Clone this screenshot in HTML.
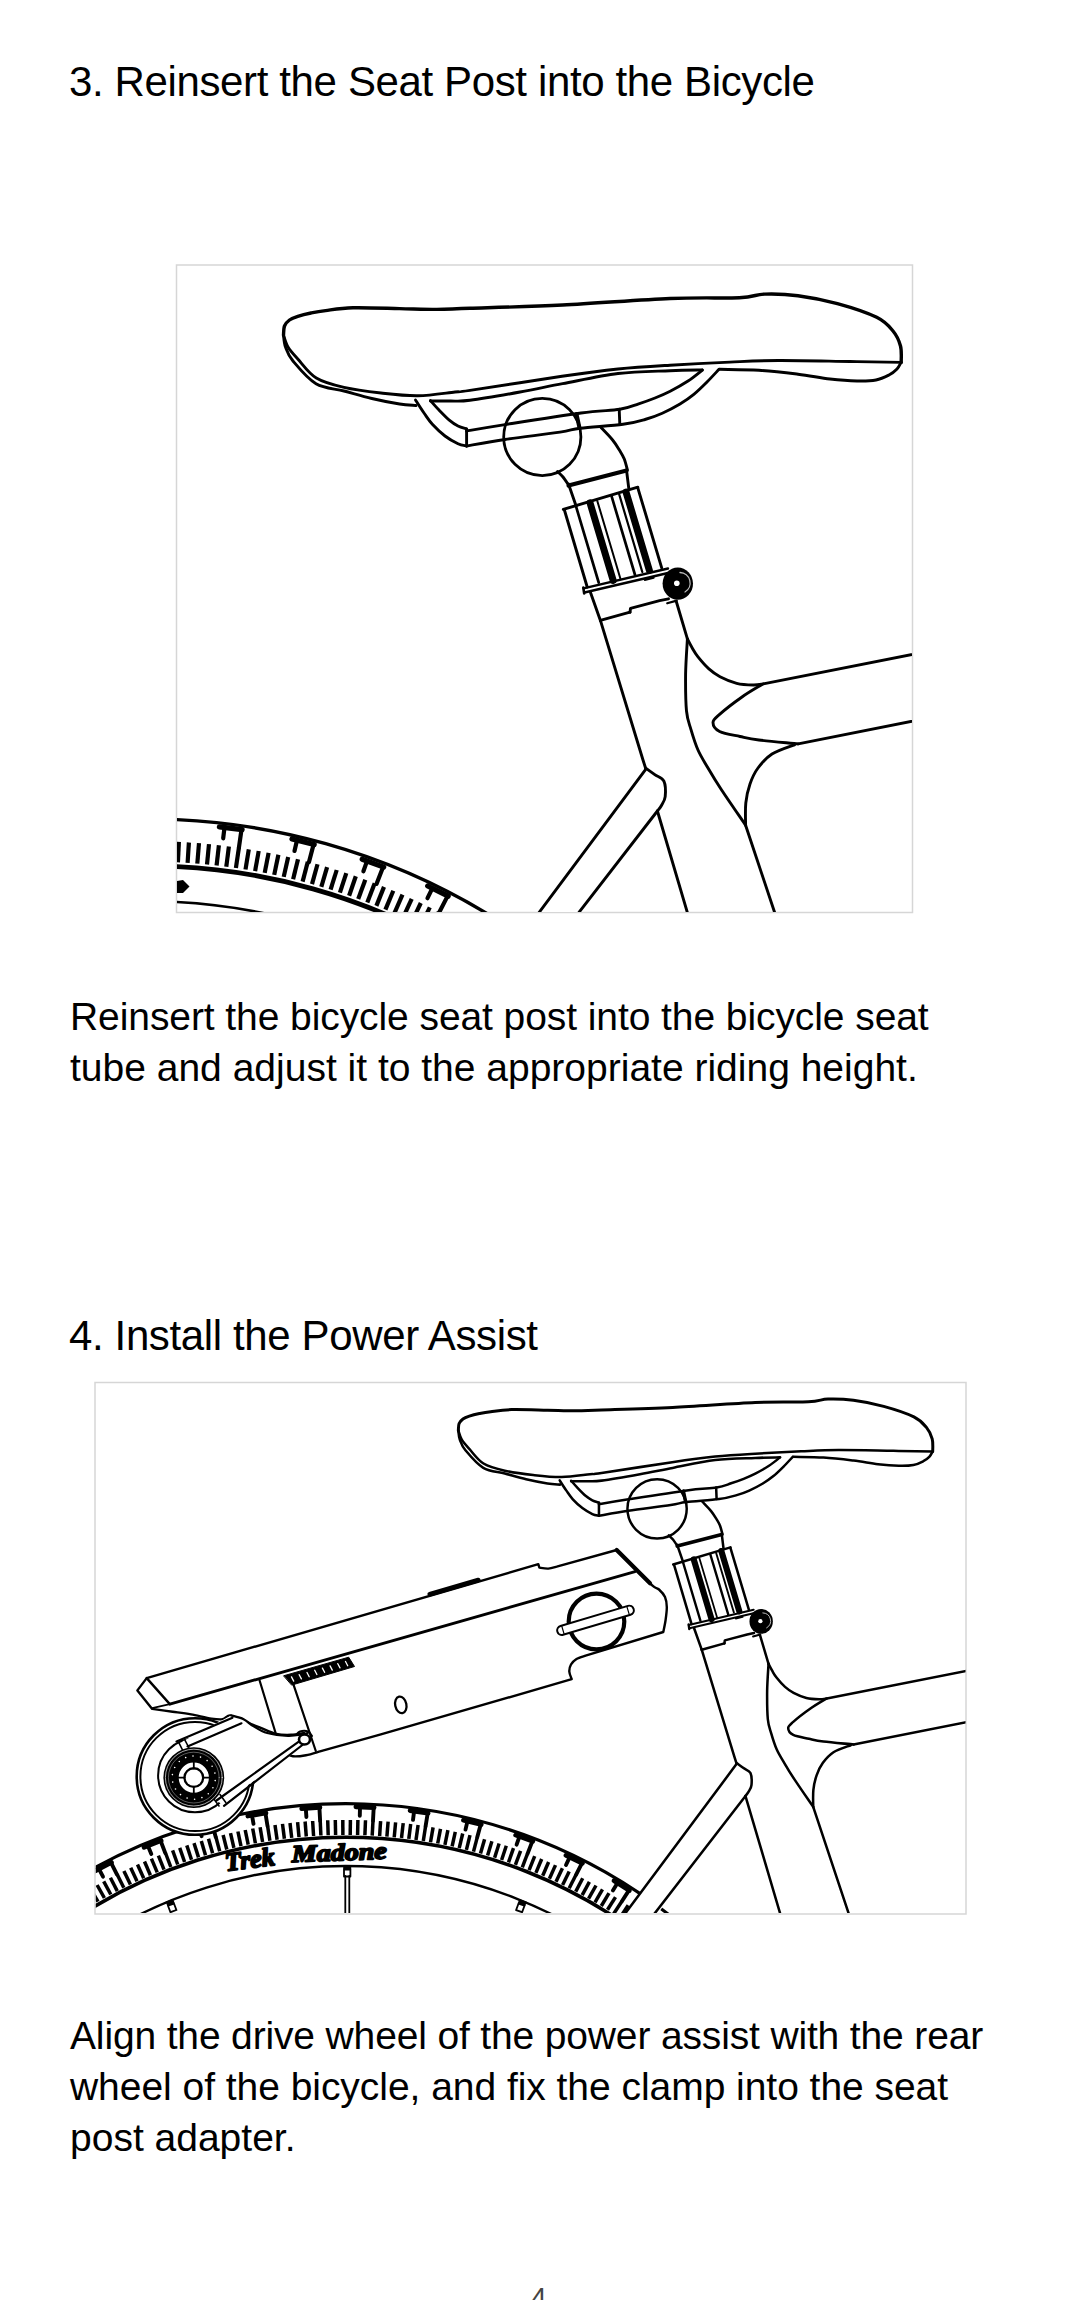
<!DOCTYPE html>
<html><head><meta charset="utf-8">
<style>
html,body{margin:0;padding:0;background:#fff;}
body{width:1080px;height:2300px;position:relative;overflow:hidden;font-family:"Liberation Sans",sans-serif;color:#000;}
.t{position:absolute;white-space:nowrap;margin:0;}
.h{font-size:42px;line-height:50px;letter-spacing:-0.37px;}
.p{font-size:39px;line-height:51px;}
svg{position:absolute;left:0;top:0;}
</style></head><body>
<div class="t h" style="left:69px;top:56.5px">3. Reinsert the Seat Post into the Bicycle</div>
<div class="t p" style="left:70px;top:990.8px;letter-spacing:-0.08px">Reinsert the bicycle seat post into the bicycle seat</div>
<div class="t p" style="left:70px;top:1041.7px">tube and adjust it to the appropriate riding height.</div>
<div class="t h" style="left:69px;top:1311.4px">4. Install the Power Assist</div>
<div class="t p" style="left:70px;top:2009.9px;letter-spacing:-0.15px">Align the drive wheel of the power assist with the rear</div>
<div class="t p" style="left:70px;top:2061px;letter-spacing:-0.04px">wheel of the bicycle, and fix the clamp into the seat</div>
<div class="t p" style="left:70px;top:2112px">post adapter.</div>
<div class="t" style="left:531px;top:2281px;font-size:28px;line-height:34px;color:#444">4</div>
<svg width="1080" height="2300" viewBox="0 0 1080 2300">
<rect x="176.5" y="265" width="736" height="647.5" fill="none" stroke="#d6d6d6" stroke-width="1.5"/>
<rect x="95" y="1382.5" width="871" height="531.5" fill="none" stroke="#d6d6d6" stroke-width="1.5"/>
<g fill="none" stroke="#000" stroke-linecap="round" stroke-linejoin="round">
<clipPath id="c1"><rect x="177" y="265.5" width="735" height="646.5"/></clipPath>
<g clip-path="url(#c1)">
<path d="M124.1,819.4 A658.1,658.1 0 0 1 510.3,928.3" stroke-width="3.40"/>
<path d="M125.7,866.3 A611.2,611.2 0 0 1 484.4,967.4" stroke-width="4.80"/>
<path d="M127.0,901.6 A575.8,575.8 0 0 1 286.4,918.4" stroke-width="2.60"/>
<path d="M177.9,862.4 L178.9,841.9" stroke-width="4.20" stroke-linecap="butt"/>
<path d="M187.6,862.9 L188.9,842.5" stroke-width="4.20" stroke-linecap="butt"/>
<path d="M197.3,863.6 L199.0,843.2" stroke-width="4.20" stroke-linecap="butt"/>
<path d="M207.0,864.5 L209.0,844.1" stroke-width="4.20" stroke-linecap="butt"/>
<path d="M216.6,865.5 L218.9,845.2" stroke-width="4.20" stroke-linecap="butt"/>
<path d="M226.3,866.7 L228.9,846.4" stroke-width="4.20" stroke-linecap="butt"/>
<path d="M235.9,868.0 L238.9,847.8" stroke-width="4.20" stroke-linecap="butt"/>
<path d="M245.5,869.5 L248.8,849.3" stroke-width="4.20" stroke-linecap="butt"/>
<path d="M255.1,871.1 L258.7,851.0" stroke-width="4.20" stroke-linecap="butt"/>
<path d="M264.7,872.9 L268.6,852.8" stroke-width="4.20" stroke-linecap="butt"/>
<path d="M274.2,874.9 L278.4,854.8" stroke-width="4.20" stroke-linecap="butt"/>
<path d="M283.7,876.9 L288.2,857.0" stroke-width="4.20" stroke-linecap="butt"/>
<path d="M293.1,879.2 L298.0,859.3" stroke-width="4.20" stroke-linecap="butt"/>
<path d="M302.6,881.6 L307.8,861.7" stroke-width="4.20" stroke-linecap="butt"/>
<path d="M312.0,884.1 L317.5,864.3" stroke-width="4.20" stroke-linecap="butt"/>
<path d="M321.3,886.8 L327.1,867.1" stroke-width="4.20" stroke-linecap="butt"/>
<path d="M330.6,889.6 L336.7,870.0" stroke-width="4.20" stroke-linecap="butt"/>
<path d="M339.9,892.6 L346.3,873.1" stroke-width="4.20" stroke-linecap="butt"/>
<path d="M349.1,895.7 L355.8,876.3" stroke-width="4.20" stroke-linecap="butt"/>
<path d="M358.2,898.9 L365.3,879.7" stroke-width="4.20" stroke-linecap="butt"/>
<path d="M367.3,902.4 L374.7,883.2" stroke-width="4.20" stroke-linecap="butt"/>
<path d="M376.4,905.9 L384.0,886.9" stroke-width="4.20" stroke-linecap="butt"/>
<path d="M385.4,909.6 L393.3,890.7" stroke-width="4.20" stroke-linecap="butt"/>
<path d="M394.3,913.4 L402.5,894.7" stroke-width="4.20" stroke-linecap="butt"/>
<path d="M403.2,917.4 L411.7,898.8" stroke-width="4.20" stroke-linecap="butt"/>
<path d="M412.0,921.5 L420.8,903.0" stroke-width="4.20" stroke-linecap="butt"/>
<path d="M420.7,925.8 L429.8,907.4" stroke-width="4.20" stroke-linecap="butt"/>
<path d="M429.4,930.2 L438.8,912.0" stroke-width="4.20" stroke-linecap="butt"/>
<path d="M438.0,934.7 L447.7,916.6" stroke-width="4.20" stroke-linecap="butt"/>
<path d="M446.5,939.4 L456.5,921.5" stroke-width="4.20" stroke-linecap="butt"/>
<path d="M455.0,944.2 L465.3,926.4" stroke-width="4.20" stroke-linecap="butt"/>
<path d="M463.4,949.1 L473.9,931.5" stroke-width="4.20" stroke-linecap="butt"/>
<path d="M471.7,954.2 L482.5,936.7" stroke-width="4.20" stroke-linecap="butt"/>
<path d="M479.9,959.3 L491.0,942.1" stroke-width="4.20" stroke-linecap="butt"/>
<path d="M219.4,826.8 L242.1,829.7" stroke-width="5.2" fill="none"/>
<path d="M224.5,827.4 L223.2,838.3" stroke-width="4.2" fill="none"/>
<path d="M241.5,829.6 L238.9,847.8" stroke-width="4.2" fill="none"/>
<path d="M292.0,839.0 L314.2,844.5" stroke-width="5.2" fill="none"/>
<path d="M297.0,840.2 L294.5,850.9" stroke-width="4.2" fill="none"/>
<path d="M313.6,844.4 L309.0,862.0" stroke-width="4.2" fill="none"/>
<path d="M362.2,859.2 L383.7,867.1" stroke-width="5.2" fill="none"/>
<path d="M367.1,860.9 L363.4,871.3" stroke-width="4.2" fill="none"/>
<path d="M383.1,866.9 L376.5,883.9" stroke-width="4.2" fill="none"/>
<path d="M427.7,886.0 L448.2,896.2" stroke-width="5.2" fill="none"/>
<path d="M432.3,888.3 L427.5,898.2" stroke-width="4.2" fill="none"/>
<path d="M447.7,895.9 L439.3,912.2" stroke-width="4.2" fill="none"/>
<path d="M177,881 L183,880 L189.5,886.5 L183,893 L177,893 Z" fill="#000" stroke="none"/>
<path d="M283.5,335.0 C283.7,333.5 283.5,328.5 284.5,326.0 C285.5,323.5 287.3,321.6 289.5,320.0 C291.7,318.4 294.2,317.5 297.8,316.3 C301.4,315.1 306.4,313.9 311.0,313.0 C315.6,312.1 318.6,311.5 325.6,310.6 C332.6,309.7 340.7,308.1 353.0,307.8 C365.3,307.5 385.7,308.3 399.6,308.6 C413.6,308.9 425.0,309.4 436.7,309.4 C448.4,309.3 449.0,309.0 470.0,308.3 C491.0,307.6 529.3,306.6 562.6,305.0 C595.9,303.4 640.5,299.7 670.0,298.5 C699.5,297.3 723.5,298.4 739.3,297.7 C755.1,297.0 755.0,294.4 764.8,294.1 C774.6,293.8 785.9,294.1 798.0,295.7 C810.1,297.3 824.3,300.0 837.4,303.6 C850.5,307.2 867.4,312.7 876.7,317.3 C886.0,321.9 889.0,326.2 893.0,331.0 C897.0,335.8 899.1,340.8 900.5,346.0 C901.9,351.2 901.1,359.7 901.2,362.4" stroke-width="3.4" fill="none"/>
<path d="M283.5,335.0 C284.2,337.0 285.6,343.0 288.0,347.0 C290.4,351.0 293.1,353.8 297.8,359.0 C302.5,364.2 308.6,373.3 316.3,378.0 C324.0,382.7 333.2,384.9 344.0,387.4 C354.8,389.9 368.7,391.6 381.0,393.0 C393.3,394.4 405.7,395.9 418.0,395.7 C430.3,395.5 446.3,392.9 455.0,392.0 C463.7,391.1 452.2,393.0 470.0,390.4 C487.8,387.8 537.3,379.9 562.0,376.3 C586.7,372.7 600.0,370.9 618.0,369.0 C636.0,367.1 651.3,366.3 670.0,365.2 C688.7,364.1 711.9,362.9 730.0,362.1 C748.1,361.3 758.5,360.6 778.5,360.5 C798.5,360.4 829.5,361.2 850.0,361.5 C870.5,361.8 892.7,362.2 901.2,362.4" stroke-width="2.9" fill="none"/>
<path d="M283.5,335.0 C283.8,337.0 283.9,342.7 285.5,347.0 C287.1,351.3 287.9,354.9 293.0,361.0 C298.1,367.1 307.5,378.7 316.0,383.7 C324.5,388.7 334.7,388.5 344.0,391.0 C353.3,393.5 362.5,396.3 371.8,398.5 C381.1,400.7 392.2,402.8 399.6,404.0 C407.0,405.2 413.3,405.2 416.0,405.5" stroke-width="2.9" fill="none"/>
<path d="M415.5,400.0 C416.9,402.2 421.1,408.9 424.0,413.0 C426.9,417.1 429.1,420.8 432.6,424.6 C436.1,428.4 440.8,432.8 445.0,436.0 C449.2,439.2 454.4,442.1 458.0,443.8 C461.6,445.5 465.2,445.6 466.6,446.0" stroke-width="2.9" fill="none"/>
<path d="M430.4,400.5 C431.8,402.1 435.8,406.7 439.0,410.0 C442.2,413.3 446.4,417.7 449.6,420.4 C452.8,423.1 455.2,424.6 458.0,426.0 C460.8,427.4 465.2,428.5 466.6,429.0" stroke-width="2.9" fill="none"/>
<path d="M466.6,429.0 L466.6,446.0" stroke-width="2.9" fill="none"/>
<path d="M430.4,401.0 C433.7,401.0 443.4,401.1 450.0,401.0 C456.6,400.9 458.3,401.8 470.0,400.3 C481.7,398.8 504.6,394.8 520.0,392.0 C535.4,389.2 546.3,386.8 562.6,383.7 C578.9,380.6 600.1,375.7 618.0,373.5 C635.9,371.3 656.0,371.3 670.0,370.7 C684.0,370.1 696.7,370.1 702.0,370.0" stroke-width="2.9" fill="none"/>
<path d="M719.6,369.3 C726.2,369.5 745.9,369.5 759.0,370.3 C772.1,371.1 786.2,372.8 798.0,374.2 C809.8,375.6 820.2,377.9 830.0,379.0 C839.8,380.1 849.3,380.8 857.0,381.0 C864.7,381.2 870.7,381.0 876.0,380.0 C881.3,379.0 885.5,376.8 889.0,375.0 C892.5,373.2 895.0,371.1 897.0,369.0 C899.0,366.9 900.3,363.5 901.0,362.4" stroke-width="2.9" fill="none"/>
<path d="M466.6,431.0 C473.0,429.9 485.9,427.6 505.0,424.6 C524.1,421.6 561.9,415.6 581.0,413.0 C600.1,410.4 610.2,410.8 619.8,409.3 C629.4,407.8 632.8,405.7 638.7,403.8 C644.6,401.9 649.8,400.1 655.0,398.0 C660.2,395.9 664.7,394.0 670.2,391.2 C675.7,388.4 682.6,384.5 688.0,381.0 C693.4,377.5 700.1,371.8 702.5,370.0" stroke-width="2.9" fill="none"/>
<path d="M466.6,446.0 C473.0,444.9 489.4,441.8 505.0,439.5 C520.6,437.2 547.4,434.0 560.0,432.1 C572.6,430.2 570.0,429.5 580.5,428.2 C591.0,426.9 612.2,425.8 623.0,424.3 C633.8,422.9 638.5,421.4 645.0,419.5 C651.5,417.6 656.5,415.8 662.3,413.2 C668.1,410.6 674.8,407.1 680.0,404.0 C685.2,400.9 689.3,398.1 693.8,394.4 C698.3,390.7 702.8,386.2 707.0,382.0 C711.2,377.8 717.0,371.4 719.0,369.3" stroke-width="2.9" fill="none"/>
<path d="M619.2,409.3 L619.8,424.3" stroke-width="2.9" fill="none"/>
<circle cx="542.3" cy="437" r="38.6" stroke-width="2.80"/>
<path d="M576.5,414.0 L579.5,428.0" stroke-width="4.0" fill="none"/>
<path d="M601.0,427.5 C602.9,429.6 609.4,436.1 612.6,440.0 C615.8,443.9 618.0,447.8 620.0,451.0 C622.0,454.2 623.2,456.1 624.4,459.3 C625.6,462.5 626.9,468.2 627.4,470.0" stroke-width="2.9" fill="none"/>
<path d="M557.5,471.5 C558.4,472.4 561.2,474.8 563.0,477.0 C564.8,479.2 567.6,483.7 568.5,485.0" stroke-width="2.9" fill="none"/>
<path d="M568.5,485.5 L626.5,470.5" stroke-width="4.2" fill="none"/>
<path d="M568.5,484.0 L576.1,506.0" stroke-width="2.9" fill="none"/>
<path d="M626.5,470.0 L628.9,489.4" stroke-width="2.9" fill="none"/>
<path d="M563.3,509.4 L637.8,487.2" stroke-width="2.9" fill="none"/>
<path d="M564.4,510.0 L587.2,587.0" stroke-width="2.9" fill="none"/>
<path d="M637.8,487.8 L661.7,567.8" stroke-width="2.9" fill="none"/>
<path d="M576.1,506.7 L598.7,582.5" stroke-width="2.7" fill="none"/>
<path d="M590.0,502.8 L613.2,580.5" stroke-width="7.0" fill="none"/>
<path d="M597.3,501.0 L620.5,579.0" stroke-width="2.0" fill="none"/>
<path d="M611.7,496.7 L634.9,574.5" stroke-width="2.7" fill="none"/>
<path d="M619.2,494.4 L642.3,572.0" stroke-width="2.2" fill="none"/>
<path d="M626.0,492.0 L649.4,570.5" stroke-width="7.0" fill="none"/>
<path d="M583.6,588.3 L668.0,568.5" stroke-width="2.4" fill="none"/>
<path d="M584.5,592.5 L668.0,573.0" stroke-width="2.4" fill="none"/>
<path d="M583.3,587.5 L584.2,593.5" stroke-width="2.6" fill="none"/>
<path d="M644.8,580.0 L653.7,577.8" stroke-width="2.0" fill="none"/>
<path d="M590.5,592.5 L600.4,620.4" stroke-width="2.9" fill="none"/>
<path d="M600.4,620.4 L630.0,612.2" stroke-width="2.9" fill="none"/>
<path d="M630.0,612.2 L630.5,608.3 L659.6,600.7 L668.5,598.8" stroke-width="2.9" fill="none"/>
<path d="M667.2,603.3 L676.7,600.6" stroke-width="2.2" fill="none"/>
<ellipse cx="677.8" cy="583.6" rx="15.2" ry="16.2" fill="#000" stroke="none"/>
<path d="M680,572.5 A10.5,10.5 0 0 1 685,592" stroke="#bbb" stroke-width="1.3"/>
<circle cx="676.8" cy="583.3" r="2.8" fill="#fff" stroke="none"/>
<path d="M600.4,620.4 L643.0,760.0 L645.7,768.5" stroke-width="2.9" fill="none"/>
<path d="M676.3,601.5 L687.4,638.9" stroke-width="2.9" fill="none"/>
<path d="M687.4,638.9 C687.1,644.8 685.8,662.0 685.6,674.0 C685.5,686.0 685.6,701.7 686.5,711.0 C687.4,720.3 689.1,723.1 691.0,729.6 C692.9,736.1 695.2,743.6 698.0,750.0 C700.8,756.4 704.1,761.3 708.0,768.0 C711.9,774.7 715.3,780.5 721.6,790.0 C727.9,799.5 741.6,819.3 745.6,825.2" stroke-width="2.9" fill="none"/>
<path d="M745.6,825.2 L793.8,970.0" stroke-width="2.9" fill="none"/>
<path d="M687.4,638.9 C688.2,640.5 690.8,645.5 692.5,648.5 C694.2,651.5 695.1,653.3 697.8,656.7 C700.5,660.1 705.2,665.6 708.9,668.9 C712.6,672.2 715.4,674.3 720.0,676.7 C724.6,679.1 731.2,681.9 736.7,683.3 C742.2,684.7 748.9,684.9 753.3,685.0 C757.7,685.1 761.6,684.1 763.3,683.9" stroke-width="2.9" fill="none"/>
<path d="M763.3,683.9 L950.0,647.1" stroke-width="2.9" fill="none"/>
<path d="M762.0,684.5 C758.7,686.6 749.1,692.0 742.0,697.0 C734.9,702.0 724.4,710.1 719.6,714.4 C714.8,718.6 713.0,719.6 713.0,722.5 C713.0,725.4 715.1,729.2 719.6,731.5 C724.1,733.8 733.5,735.1 740.0,736.5 C746.5,737.9 749.2,738.8 758.9,740.0 C768.6,741.2 791.7,743.2 798.2,743.9" stroke-width="2.9" fill="none"/>
<path d="M798.2,743.9 L950.0,713.8" stroke-width="2.9" fill="none"/>
<path d="M794.5,744.8 C790.8,746.3 778.1,750.1 772.0,754.0 C765.9,757.9 761.7,763.0 758.0,768.0 C754.3,773.0 752.0,778.2 750.0,784.0 C748.0,789.8 746.5,796.1 745.8,803.0 C745.1,809.9 745.6,821.5 745.6,825.2" stroke-width="2.9" fill="none"/>
<path d="M645.7,768.1 C647.2,769.2 651.8,772.4 654.8,774.6 C657.8,776.8 662.2,777.4 663.9,781.1 C665.6,784.8 665.6,792.6 665.2,796.7 C664.8,800.8 662.6,803.3 661.3,805.7 C660.0,808.1 658.0,810.1 657.4,811.0 L535,975 L492.5,975 Z" fill="#fff" stroke="none"/>
<path d="M645.7,768.1 C647.2,769.2 651.8,772.4 654.8,774.6 C657.8,776.8 662.2,777.4 663.9,781.1 C665.6,784.8 665.6,792.6 665.2,796.7 C664.8,800.8 662.6,803.3 661.3,805.7 C660.0,808.1 658.0,810.1 657.4,811.0" stroke-width="2.9" fill="none"/>
<path d="M645.7,769.4 L492.5,975.0" stroke-width="2.9" fill="none"/>
<path d="M657.4,811.0 L530.5,975.0" stroke-width="2.9" fill="none"/>
<path d="M657.4,811.0 L705.8,975.0" stroke-width="2.9" fill="none"/>
</g>
<clipPath id="c2"><rect x="95.8" y="1383" width="869.7" height="530"/></clipPath>
<g clip-path="url(#c2)">
<path d="M37.4,1904.0 A525.0,525.0 0 0 1 683.5,1926.5" stroke-width="3.13"/>
<path d="M57.1,1931.1 A491.5,491.5 0 0 1 661.9,1952.2" stroke-width="3.59"/>
<path d="M74.0,1954.4 A462.7,462.7 0 0 1 643.4,1974.3" stroke-width="2.39"/>
<path d="M55.1,1929.7 L46.2,1917.6" stroke-width="3.50" stroke-linecap="butt"/>
<path d="M61.0,1925.4 L52.4,1913.2" stroke-width="3.50" stroke-linecap="butt"/>
<path d="M67.0,1921.2 L58.6,1908.9" stroke-width="3.50" stroke-linecap="butt"/>
<path d="M73.1,1917.2 L64.8,1904.6" stroke-width="3.50" stroke-linecap="butt"/>
<path d="M79.3,1913.1 L71.2,1900.5" stroke-width="3.50" stroke-linecap="butt"/>
<path d="M85.5,1909.2 L77.5,1896.5" stroke-width="3.50" stroke-linecap="butt"/>
<path d="M91.7,1905.4 L84.0,1892.5" stroke-width="3.50" stroke-linecap="butt"/>
<path d="M98.0,1901.7 L90.5,1888.7" stroke-width="3.50" stroke-linecap="butt"/>
<path d="M104.4,1898.0 L97.1,1885.0" stroke-width="3.50" stroke-linecap="butt"/>
<path d="M110.8,1894.5 L103.7,1881.3" stroke-width="3.50" stroke-linecap="butt"/>
<path d="M117.3,1891.1 L110.4,1877.8" stroke-width="3.50" stroke-linecap="butt"/>
<path d="M123.8,1887.7 L117.1,1874.3" stroke-width="3.50" stroke-linecap="butt"/>
<path d="M130.4,1884.5 L123.9,1871.0" stroke-width="3.50" stroke-linecap="butt"/>
<path d="M137.0,1881.3 L130.7,1867.7" stroke-width="3.50" stroke-linecap="butt"/>
<path d="M143.7,1878.2 L137.5,1864.6" stroke-width="3.50" stroke-linecap="butt"/>
<path d="M150.4,1875.3 L144.5,1861.5" stroke-width="3.50" stroke-linecap="butt"/>
<path d="M157.2,1872.4 L151.4,1858.6" stroke-width="3.50" stroke-linecap="butt"/>
<path d="M164.0,1869.7 L158.4,1855.7" stroke-width="3.50" stroke-linecap="butt"/>
<path d="M170.8,1867.0 L165.5,1853.0" stroke-width="3.50" stroke-linecap="butt"/>
<path d="M177.7,1864.5 L172.6,1850.4" stroke-width="3.50" stroke-linecap="butt"/>
<path d="M184.6,1862.0 L179.7,1847.9" stroke-width="3.50" stroke-linecap="butt"/>
<path d="M191.5,1859.7 L186.8,1845.4" stroke-width="3.50" stroke-linecap="butt"/>
<path d="M198.5,1857.4 L194.0,1843.1" stroke-width="3.50" stroke-linecap="butt"/>
<path d="M205.5,1855.3 L201.3,1840.9" stroke-width="3.50" stroke-linecap="butt"/>
<path d="M212.6,1853.3 L208.5,1838.8" stroke-width="3.50" stroke-linecap="butt"/>
<path d="M219.7,1851.3 L215.8,1836.8" stroke-width="3.50" stroke-linecap="butt"/>
<path d="M226.8,1849.5 L223.1,1835.0" stroke-width="3.50" stroke-linecap="butt"/>
<path d="M233.9,1847.8 L230.5,1833.2" stroke-width="3.50" stroke-linecap="butt"/>
<path d="M241.0,1846.2 L237.9,1831.5" stroke-width="3.50" stroke-linecap="butt"/>
<path d="M248.2,1844.7 L245.2,1830.0" stroke-width="3.50" stroke-linecap="butt"/>
<path d="M255.4,1843.3 L252.7,1828.5" stroke-width="3.50" stroke-linecap="butt"/>
<path d="M262.6,1842.0 L260.1,1827.2" stroke-width="3.50" stroke-linecap="butt"/>
<path d="M269.9,1840.8 L267.6,1826.0" stroke-width="3.50" stroke-linecap="butt"/>
<path d="M277.1,1839.7 L275.0,1824.9" stroke-width="3.50" stroke-linecap="butt"/>
<path d="M284.4,1838.8 L282.5,1823.9" stroke-width="3.50" stroke-linecap="butt"/>
<path d="M291.7,1837.9 L290.0,1823.0" stroke-width="3.50" stroke-linecap="butt"/>
<path d="M299.0,1837.1 L297.6,1822.2" stroke-width="3.50" stroke-linecap="butt"/>
<path d="M306.3,1836.5 L305.1,1821.5" stroke-width="3.50" stroke-linecap="butt"/>
<path d="M313.6,1836.0 L312.6,1821.0" stroke-width="3.50" stroke-linecap="butt"/>
<path d="M320.9,1835.5 L320.2,1820.6" stroke-width="3.50" stroke-linecap="butt"/>
<path d="M328.2,1835.2 L327.7,1820.2" stroke-width="3.50" stroke-linecap="butt"/>
<path d="M335.6,1835.0 L335.3,1820.0" stroke-width="3.50" stroke-linecap="butt"/>
<path d="M342.9,1834.9 L342.8,1819.9" stroke-width="3.50" stroke-linecap="butt"/>
<path d="M350.2,1834.9 L350.4,1819.9" stroke-width="3.50" stroke-linecap="butt"/>
<path d="M357.6,1835.0 L357.9,1820.0" stroke-width="3.50" stroke-linecap="butt"/>
<path d="M364.9,1835.3 L365.5,1820.3" stroke-width="3.50" stroke-linecap="butt"/>
<path d="M372.2,1835.6 L373.0,1820.6" stroke-width="3.50" stroke-linecap="butt"/>
<path d="M379.6,1836.0 L380.6,1821.1" stroke-width="3.50" stroke-linecap="butt"/>
<path d="M386.9,1836.6 L388.1,1821.6" stroke-width="3.50" stroke-linecap="butt"/>
<path d="M394.2,1837.3 L395.6,1822.3" stroke-width="3.50" stroke-linecap="butt"/>
<path d="M401.5,1838.0 L403.2,1823.1" stroke-width="3.50" stroke-linecap="butt"/>
<path d="M408.8,1838.9 L410.7,1824.0" stroke-width="3.50" stroke-linecap="butt"/>
<path d="M416.0,1839.9 L418.1,1825.0" stroke-width="3.50" stroke-linecap="butt"/>
<path d="M423.3,1841.0 L425.6,1826.2" stroke-width="3.50" stroke-linecap="butt"/>
<path d="M430.5,1842.2 L433.1,1827.4" stroke-width="3.50" stroke-linecap="butt"/>
<path d="M437.7,1843.5 L440.5,1828.8" stroke-width="3.50" stroke-linecap="butt"/>
<path d="M444.9,1844.9 L447.9,1830.2" stroke-width="3.50" stroke-linecap="butt"/>
<path d="M452.1,1846.4 L455.3,1831.8" stroke-width="3.50" stroke-linecap="butt"/>
<path d="M459.2,1848.1 L462.7,1833.5" stroke-width="3.50" stroke-linecap="butt"/>
<path d="M466.4,1849.8 L470.0,1835.2" stroke-width="3.50" stroke-linecap="butt"/>
<path d="M473.5,1851.6 L477.3,1837.1" stroke-width="3.50" stroke-linecap="butt"/>
<path d="M480.5,1853.6 L484.6,1839.2" stroke-width="3.50" stroke-linecap="butt"/>
<path d="M487.6,1855.6 L491.9,1841.3" stroke-width="3.50" stroke-linecap="butt"/>
<path d="M494.6,1857.8 L499.1,1843.5" stroke-width="3.50" stroke-linecap="butt"/>
<path d="M501.6,1860.0 L506.3,1845.8" stroke-width="3.50" stroke-linecap="butt"/>
<path d="M508.5,1862.4 L513.5,1848.2" stroke-width="3.50" stroke-linecap="butt"/>
<path d="M515.4,1864.9 L520.6,1850.8" stroke-width="3.50" stroke-linecap="butt"/>
<path d="M522.3,1867.4 L527.6,1853.4" stroke-width="3.50" stroke-linecap="butt"/>
<path d="M529.1,1870.1 L534.7,1856.2" stroke-width="3.50" stroke-linecap="butt"/>
<path d="M535.9,1872.9 L541.7,1859.0" stroke-width="3.50" stroke-linecap="butt"/>
<path d="M542.7,1875.8 L548.6,1862.0" stroke-width="3.50" stroke-linecap="butt"/>
<path d="M549.4,1878.7 L555.5,1865.1" stroke-width="3.50" stroke-linecap="butt"/>
<path d="M556.0,1881.8 L562.4,1868.2" stroke-width="3.50" stroke-linecap="butt"/>
<path d="M562.6,1885.0 L569.2,1871.5" stroke-width="3.50" stroke-linecap="butt"/>
<path d="M569.2,1888.2 L576.0,1874.8" stroke-width="3.50" stroke-linecap="butt"/>
<path d="M575.7,1891.6 L582.7,1878.3" stroke-width="3.50" stroke-linecap="butt"/>
<path d="M582.2,1895.1 L589.4,1881.9" stroke-width="3.50" stroke-linecap="butt"/>
<path d="M588.6,1898.6 L596.0,1885.5" stroke-width="3.50" stroke-linecap="butt"/>
<path d="M595.0,1902.3 L602.5,1889.3" stroke-width="3.50" stroke-linecap="butt"/>
<path d="M601.3,1906.0 L609.0,1893.2" stroke-width="3.50" stroke-linecap="butt"/>
<path d="M607.5,1909.8 L615.5,1897.1" stroke-width="3.50" stroke-linecap="butt"/>
<path d="M613.7,1913.8 L621.9,1901.2" stroke-width="3.50" stroke-linecap="butt"/>
<path d="M619.9,1917.8 L628.2,1905.3" stroke-width="3.50" stroke-linecap="butt"/>
<path d="M625.9,1921.9 L634.4,1909.6" stroke-width="3.50" stroke-linecap="butt"/>
<path d="M631.9,1926.1 L640.6,1913.9" stroke-width="3.50" stroke-linecap="butt"/>
<path d="M637.9,1930.4 L646.8,1918.3" stroke-width="3.50" stroke-linecap="butt"/>
<path d="M643.8,1934.8 L652.8,1922.8" stroke-width="3.50" stroke-linecap="butt"/>
<path d="M649.6,1939.2 L658.8,1927.4" stroke-width="3.50" stroke-linecap="butt"/>
<path d="M655.3,1943.8 L664.7,1932.1" stroke-width="3.50" stroke-linecap="butt"/>
<path d="M661.0,1948.4 L670.6,1936.9" stroke-width="3.50" stroke-linecap="butt"/>
<path d="M95.3,1870.9 L111.4,1862.4" stroke-width="4.8" fill="none"/>
<path d="M98.9,1868.9 L103.0,1876.7" stroke-width="3.9" fill="none"/>
<path d="M111.0,1862.6 L116.9,1874.4" stroke-width="3.9" fill="none"/>
<path d="M144.1,1847.3 L161.1,1840.6" stroke-width="4.8" fill="none"/>
<path d="M147.9,1845.8 L151.3,1853.9" stroke-width="3.9" fill="none"/>
<path d="M160.6,1840.8 L165.3,1853.1" stroke-width="3.9" fill="none"/>
<path d="M195.2,1829.0 L212.8,1824.0" stroke-width="4.8" fill="none"/>
<path d="M199.2,1827.8 L201.6,1836.2" stroke-width="3.9" fill="none"/>
<path d="M212.3,1824.1 L215.7,1836.9" stroke-width="3.9" fill="none"/>
<path d="M247.9,1816.0 L265.9,1812.9" stroke-width="4.8" fill="none"/>
<path d="M252.0,1815.3 L253.5,1823.9" stroke-width="3.9" fill="none"/>
<path d="M265.4,1813.0 L267.5,1826.0" stroke-width="3.9" fill="none"/>
<path d="M301.7,1808.6 L319.9,1807.4" stroke-width="4.8" fill="none"/>
<path d="M305.8,1808.3 L306.4,1817.0" stroke-width="3.9" fill="none"/>
<path d="M319.4,1807.4 L320.1,1820.6" stroke-width="3.9" fill="none"/>
<path d="M355.9,1806.8 L374.1,1807.5" stroke-width="4.8" fill="none"/>
<path d="M360.0,1806.9 L359.8,1815.7" stroke-width="3.9" fill="none"/>
<path d="M373.7,1807.5 L373.0,1820.6" stroke-width="3.9" fill="none"/>
<path d="M410.1,1810.7 L428.1,1813.2" stroke-width="4.8" fill="none"/>
<path d="M414.1,1811.2 L413.0,1819.9" stroke-width="3.9" fill="none"/>
<path d="M427.7,1813.2 L425.6,1826.2" stroke-width="3.9" fill="none"/>
<path d="M463.5,1820.1 L481.2,1824.5" stroke-width="4.8" fill="none"/>
<path d="M467.5,1821.1 L465.5,1829.6" stroke-width="3.9" fill="none"/>
<path d="M480.7,1824.4 L477.3,1837.1" stroke-width="3.9" fill="none"/>
<path d="M515.7,1835.1 L532.8,1841.3" stroke-width="4.8" fill="none"/>
<path d="M519.5,1836.4 L516.6,1844.7" stroke-width="3.9" fill="none"/>
<path d="M532.4,1841.1 L527.7,1853.4" stroke-width="3.9" fill="none"/>
<path d="M566.0,1855.4 L582.4,1863.3" stroke-width="4.8" fill="none"/>
<path d="M569.7,1857.1 L566.0,1865.0" stroke-width="3.9" fill="none"/>
<path d="M582.0,1863.1 L576.0,1874.9" stroke-width="3.9" fill="none"/>
<path d="M614.0,1880.8 L629.4,1890.4" stroke-width="4.8" fill="none"/>
<path d="M617.5,1882.9 L612.9,1890.4" stroke-width="3.9" fill="none"/>
<path d="M629.1,1890.1 L621.9,1901.2" stroke-width="3.9" fill="none"/>
<text x="0" y="0" transform="translate(226,1871) rotate(-7)" font-family="Liberation Serif" font-style="italic" font-weight="bold" font-size="26" fill="#000" stroke="#000" stroke-width="1.8" textLength="50" lengthAdjust="spacingAndGlyphs">Trek</text>
<text x="0" y="0" transform="translate(292,1862) rotate(-2)" font-family="Liberation Serif" font-style="italic" font-weight="bold" font-size="24" fill="#000" stroke="#000" stroke-width="1.8" textLength="95" lengthAdjust="spacingAndGlyphs">Madone</text>
<g transform="translate(171.5,1906.0) rotate(-20.5)"><rect x="-4" y="-6" width="8" height="4.5" fill="#000" stroke="none"/><rect x="-3.2" y="-1.5" width="6.4" height="7" fill="#fff" stroke-width="1.8"/></g>
<g transform="translate(347.2,1871.0) rotate(0.0)"><rect x="-4" y="-6" width="8" height="4.5" fill="#000" stroke="none"/><rect x="-3.2" y="-1.5" width="6.4" height="7" fill="#fff" stroke-width="1.8"/></g>
<g transform="translate(521.0,1906.0) rotate(20.0)"><rect x="-4" y="-6" width="8" height="4.5" fill="#000" stroke="none"/><rect x="-3.2" y="-1.5" width="6.4" height="7" fill="#fff" stroke-width="1.8"/></g>
<path d="M345.3,1876.0 L345.3,1915.0" stroke-width="1.8" fill="none"/>
<path d="M349.3,1876.0 L349.3,1915.0" stroke-width="1.8" fill="none"/>
<g transform="matrix(0.768,0,0,0.768,240.6,1173.2)">
<path d="M283.5,335.0 C283.7,333.5 283.5,328.5 284.5,326.0 C285.5,323.5 287.3,321.6 289.5,320.0 C291.7,318.4 294.2,317.5 297.8,316.3 C301.4,315.1 306.4,313.9 311.0,313.0 C315.6,312.1 318.6,311.5 325.6,310.6 C332.6,309.7 340.7,308.1 353.0,307.8 C365.3,307.5 385.7,308.3 399.6,308.6 C413.6,308.9 425.0,309.4 436.7,309.4 C448.4,309.3 449.0,309.0 470.0,308.3 C491.0,307.6 529.3,306.6 562.6,305.0 C595.9,303.4 640.5,299.7 670.0,298.5 C699.5,297.3 723.5,298.4 739.3,297.7 C755.1,297.0 755.0,294.4 764.8,294.1 C774.6,293.8 785.9,294.1 798.0,295.7 C810.1,297.3 824.3,300.0 837.4,303.6 C850.5,307.2 867.4,312.7 876.7,317.3 C886.0,321.9 889.0,326.2 893.0,331.0 C897.0,335.8 899.1,340.8 900.5,346.0 C901.9,351.2 901.1,359.7 901.2,362.4" stroke-width="3.9" fill="none"/>
<path d="M283.5,335.0 C284.2,337.0 285.6,343.0 288.0,347.0 C290.4,351.0 293.1,353.8 297.8,359.0 C302.5,364.2 308.6,373.3 316.3,378.0 C324.0,382.7 333.2,384.9 344.0,387.4 C354.8,389.9 368.7,391.6 381.0,393.0 C393.3,394.4 405.7,395.9 418.0,395.7 C430.3,395.5 446.3,392.9 455.0,392.0 C463.7,391.1 452.2,393.0 470.0,390.4 C487.8,387.8 537.3,379.9 562.0,376.3 C586.7,372.7 600.0,370.9 618.0,369.0 C636.0,367.1 651.3,366.3 670.0,365.2 C688.7,364.1 711.9,362.9 730.0,362.1 C748.1,361.3 758.5,360.6 778.5,360.5 C798.5,360.4 829.5,361.2 850.0,361.5 C870.5,361.8 892.7,362.2 901.2,362.4" stroke-width="3.3" fill="none"/>
<path d="M283.5,335.0 C283.8,337.0 283.9,342.7 285.5,347.0 C287.1,351.3 287.9,354.9 293.0,361.0 C298.1,367.1 307.5,378.7 316.0,383.7 C324.5,388.7 334.7,388.5 344.0,391.0 C353.3,393.5 362.5,396.3 371.8,398.5 C381.1,400.7 392.2,402.8 399.6,404.0 C407.0,405.2 413.3,405.2 416.0,405.5" stroke-width="3.3" fill="none"/>
<path d="M415.5,400.0 C416.9,402.2 421.1,408.9 424.0,413.0 C426.9,417.1 429.1,420.8 432.6,424.6 C436.1,428.4 440.8,432.8 445.0,436.0 C449.2,439.2 454.4,442.1 458.0,443.8 C461.6,445.5 465.2,445.6 466.6,446.0" stroke-width="3.3" fill="none"/>
<path d="M430.4,400.5 C431.8,402.1 435.8,406.7 439.0,410.0 C442.2,413.3 446.4,417.7 449.6,420.4 C452.8,423.1 455.2,424.6 458.0,426.0 C460.8,427.4 465.2,428.5 466.6,429.0" stroke-width="3.3" fill="none"/>
<path d="M466.6,429.0 L466.6,446.0" stroke-width="3.3" fill="none"/>
<path d="M430.4,401.0 C433.7,401.0 443.4,401.1 450.0,401.0 C456.6,400.9 458.3,401.8 470.0,400.3 C481.7,398.8 504.6,394.8 520.0,392.0 C535.4,389.2 546.3,386.8 562.6,383.7 C578.9,380.6 600.1,375.7 618.0,373.5 C635.9,371.3 656.0,371.3 670.0,370.7 C684.0,370.1 696.7,370.1 702.0,370.0" stroke-width="3.3" fill="none"/>
<path d="M719.6,369.3 C726.2,369.5 745.9,369.5 759.0,370.3 C772.1,371.1 786.2,372.8 798.0,374.2 C809.8,375.6 820.2,377.9 830.0,379.0 C839.8,380.1 849.3,380.8 857.0,381.0 C864.7,381.2 870.7,381.0 876.0,380.0 C881.3,379.0 885.5,376.8 889.0,375.0 C892.5,373.2 895.0,371.1 897.0,369.0 C899.0,366.9 900.3,363.5 901.0,362.4" stroke-width="3.3" fill="none"/>
<path d="M466.6,431.0 C473.0,429.9 485.9,427.6 505.0,424.6 C524.1,421.6 561.9,415.6 581.0,413.0 C600.1,410.4 610.2,410.8 619.8,409.3 C629.4,407.8 632.8,405.7 638.7,403.8 C644.6,401.9 649.8,400.1 655.0,398.0 C660.2,395.9 664.7,394.0 670.2,391.2 C675.7,388.4 682.6,384.5 688.0,381.0 C693.4,377.5 700.1,371.8 702.5,370.0" stroke-width="3.3" fill="none"/>
<path d="M466.6,446.0 C473.0,444.9 489.4,441.8 505.0,439.5 C520.6,437.2 547.4,434.0 560.0,432.1 C572.6,430.2 570.0,429.5 580.5,428.2 C591.0,426.9 612.2,425.8 623.0,424.3 C633.8,422.9 638.5,421.4 645.0,419.5 C651.5,417.6 656.5,415.8 662.3,413.2 C668.1,410.6 674.8,407.1 680.0,404.0 C685.2,400.9 689.3,398.1 693.8,394.4 C698.3,390.7 702.8,386.2 707.0,382.0 C711.2,377.8 717.0,371.4 719.0,369.3" stroke-width="3.3" fill="none"/>
<path d="M619.2,409.3 L619.8,424.3" stroke-width="3.3" fill="none"/>
<circle cx="542.3" cy="437" r="38.6" stroke-width="3.22"/>
<path d="M576.5,414.0 L579.5,428.0" stroke-width="4.6" fill="none"/>
<path d="M601.0,427.5 C602.9,429.6 609.4,436.1 612.6,440.0 C615.8,443.9 618.0,447.8 620.0,451.0 C622.0,454.2 623.2,456.1 624.4,459.3 C625.6,462.5 626.9,468.2 627.4,470.0" stroke-width="3.3" fill="none"/>
<path d="M557.5,471.5 C558.4,472.4 561.2,474.8 563.0,477.0 C564.8,479.2 567.6,483.7 568.5,485.0" stroke-width="3.3" fill="none"/>
<path d="M568.5,485.5 L626.5,470.5" stroke-width="4.8" fill="none"/>
<path d="M568.5,484.0 L576.1,506.0" stroke-width="3.3" fill="none"/>
<path d="M626.5,470.0 L628.9,489.4" stroke-width="3.3" fill="none"/>
<path d="M563.3,509.4 L637.8,487.2" stroke-width="3.3" fill="none"/>
<path d="M564.4,510.0 L587.2,587.0" stroke-width="3.3" fill="none"/>
<path d="M637.8,487.8 L661.7,567.8" stroke-width="3.3" fill="none"/>
<path d="M576.1,506.7 L598.7,582.5" stroke-width="3.1" fill="none"/>
<path d="M590.0,502.8 L613.2,580.5" stroke-width="8.0" fill="none"/>
<path d="M597.3,501.0 L620.5,579.0" stroke-width="2.3" fill="none"/>
<path d="M611.7,496.7 L634.9,574.5" stroke-width="3.1" fill="none"/>
<path d="M619.2,494.4 L642.3,572.0" stroke-width="2.5" fill="none"/>
<path d="M626.0,492.0 L649.4,570.5" stroke-width="8.0" fill="none"/>
<path d="M583.6,588.3 L668.0,568.5" stroke-width="2.8" fill="none"/>
<path d="M584.5,592.5 L668.0,573.0" stroke-width="2.8" fill="none"/>
<path d="M583.3,587.5 L584.2,593.5" stroke-width="3.0" fill="none"/>
<path d="M644.8,580.0 L653.7,577.8" stroke-width="2.3" fill="none"/>
<path d="M590.5,592.5 L600.4,620.4" stroke-width="3.3" fill="none"/>
<path d="M600.4,620.4 L630.0,612.2" stroke-width="3.3" fill="none"/>
<path d="M630.0,612.2 L630.5,608.3 L659.6,600.7 L668.5,598.8" stroke-width="3.3" fill="none"/>
<path d="M667.2,603.3 L676.7,600.6" stroke-width="2.5" fill="none"/>
<ellipse cx="677.8" cy="583.6" rx="15.2" ry="16.2" fill="#000" stroke="none"/>
<path d="M680,572.5 A10.5,10.5 0 0 1 685,592" stroke="#bbb" stroke-width="1.3"/>
<circle cx="676.8" cy="583.3" r="2.8" fill="#fff" stroke="none"/>
<path d="M600.4,620.4 L643.0,760.0 L645.7,768.5" stroke-width="3.3" fill="none"/>
<path d="M676.3,601.5 L687.4,638.9" stroke-width="3.3" fill="none"/>
<path d="M687.4,638.9 C687.1,644.8 685.8,662.0 685.6,674.0 C685.5,686.0 685.6,701.7 686.5,711.0 C687.4,720.3 689.1,723.1 691.0,729.6 C692.9,736.1 695.2,743.6 698.0,750.0 C700.8,756.4 704.1,761.3 708.0,768.0 C711.9,774.7 715.3,780.5 721.6,790.0 C727.9,799.5 741.6,819.3 745.6,825.2" stroke-width="3.3" fill="none"/>
<path d="M745.6,825.2 L793.8,970.0" stroke-width="3.3" fill="none"/>
<path d="M687.4,638.9 C688.2,640.5 690.8,645.5 692.5,648.5 C694.2,651.5 695.1,653.3 697.8,656.7 C700.5,660.1 705.2,665.6 708.9,668.9 C712.6,672.2 715.4,674.3 720.0,676.7 C724.6,679.1 731.2,681.9 736.7,683.3 C742.2,684.7 748.9,684.9 753.3,685.0 C757.7,685.1 761.6,684.1 763.3,683.9" stroke-width="3.3" fill="none"/>
<path d="M763.3,683.9 L950.0,647.1" stroke-width="3.3" fill="none"/>
<path d="M762.0,684.5 C758.7,686.6 749.1,692.0 742.0,697.0 C734.9,702.0 724.4,710.1 719.6,714.4 C714.8,718.6 713.0,719.6 713.0,722.5 C713.0,725.4 715.1,729.2 719.6,731.5 C724.1,733.8 733.5,735.1 740.0,736.5 C746.5,737.9 749.2,738.8 758.9,740.0 C768.6,741.2 791.7,743.2 798.2,743.9" stroke-width="3.3" fill="none"/>
<path d="M798.2,743.9 L950.0,713.8" stroke-width="3.3" fill="none"/>
<path d="M794.5,744.8 C790.8,746.3 778.1,750.1 772.0,754.0 C765.9,757.9 761.7,763.0 758.0,768.0 C754.3,773.0 752.0,778.2 750.0,784.0 C748.0,789.8 746.5,796.1 745.8,803.0 C745.1,809.9 745.6,821.5 745.6,825.2" stroke-width="3.3" fill="none"/>
<path d="M645.7,768.1 C647.2,769.2 651.8,772.4 654.8,774.6 C657.8,776.8 662.2,777.4 663.9,781.1 C665.6,784.8 665.6,792.6 665.2,796.7 C664.8,800.8 662.6,803.3 661.3,805.7 C660.0,808.1 658.0,810.1 657.4,811.0 L535,975 L492.5,975 Z" fill="#fff" stroke="none"/>
<path d="M645.7,768.1 C647.2,769.2 651.8,772.4 654.8,774.6 C657.8,776.8 662.2,777.4 663.9,781.1 C665.6,784.8 665.6,792.6 665.2,796.7 C664.8,800.8 662.6,803.3 661.3,805.7 C660.0,808.1 658.0,810.1 657.4,811.0" stroke-width="3.3" fill="none"/>
<path d="M645.7,769.4 L492.5,975.0" stroke-width="3.3" fill="none"/>
<path d="M657.4,811.0 L530.5,975.0" stroke-width="3.3" fill="none"/>
<path d="M657.4,811.0 L705.8,975.0" stroke-width="3.3" fill="none"/>
</g>
<circle cx="195.0" cy="1776.5" r="58.3" fill="#fff" stroke-width="2.6"/>
<circle cx="195.0" cy="1776.5" r="54.6" stroke-width="2.0"/>
<circle cx="195.0" cy="1775.4" r="36.9" stroke-width="2.0"/>
<path d="M146.7,1678.1 L538.3,1564.2 L539.4,1567.6  C540.9,1567.8 545.4,1568.8 548.3,1568.6 C551.2,1568.4 555.3,1567.0 556.7,1566.7 L616.7,1550 C622.2,1555.5 643.0,1576.7 650.0,1583.3 C657.0,1589.9 656.5,1587.2 659.0,1589.5 C661.5,1591.8 663.7,1594.1 665.0,1597.0 C666.3,1599.9 666.7,1603.2 666.8,1607.0 C666.9,1610.8 666.2,1615.8 665.6,1620.0 C665.0,1624.2 663.7,1630.0 663.3,1632.0 L585.6,1655.6 C584.1,1656.2 578.9,1657.5 576.5,1659.0 C574.1,1660.5 572.2,1662.4 571.0,1664.5 C569.8,1666.6 569.2,1669.0 569.3,1671.5 C569.4,1674.0 571.3,1677.9 571.7,1679.2 L380,1734.7 L320,1751.4 C317.7,1752.0 310.5,1754.4 306.0,1755.2 C301.5,1756.0 296.2,1756.6 293.0,1756.3 C289.8,1756.0 288.0,1754.0 287.0,1753.5 L304,1733 C301.9,1733.3 295.7,1734.6 291.1,1734.8 C286.5,1735.0 281.6,1735.1 276.3,1733.9 C271.1,1732.7 265.5,1729.7 259.6,1727.4 C253.7,1725.1 245.9,1722.0 241.0,1720.0 C236.1,1718.0 233.1,1715.5 230.0,1715.4 C226.9,1715.3 225.7,1718.7 222.6,1719.2 C219.5,1719.7 216.8,1719.4 211.5,1718.6 C206.2,1717.8 197.6,1715.6 191.1,1714.4 C184.6,1713.2 179.1,1712.6 172.6,1711.7 C166.1,1710.8 155.6,1709.4 152.2,1708.9 L137.4,1690.4 Z" fill="#fff" stroke-width="2.4"/>
<path d="M616.7,1550.0 L650.0,1583.3" stroke-width="4.2" fill="none"/>
<path d="M169.8,1704.1 L635.0,1571.7" stroke-width="2.9" fill="none"/>
<path d="M146.7,1678.1 L169.8,1704.1" stroke-width="2.4" fill="none"/>
<path d="M152.2,1708.2 L169.8,1704.1" stroke-width="1.8" fill="none"/>
<path d="M259.6,1680.5 L275.6,1733.0" stroke-width="2.2" fill="none"/>
<path d="M293.0,1683.2 L315.8,1751.0" stroke-width="2.2" fill="none"/>
<path d="M429.7,1594.2 L478.3,1580.0" stroke-width="4.6" fill="none"/>
<path d="M283.9,1675.7 L348.7,1657.2 L354.5,1666.5 L292,1685 Z" fill="#000" stroke="#000" stroke-width="1"/>
<path d="M291.5,1676.9 L293.7,1681.1" stroke="#fff" stroke-width="1.3"/>
<path d="M299.2,1674.7 L301.4,1678.9" stroke="#fff" stroke-width="1.3"/>
<path d="M307.0,1672.5 L309.2,1676.7" stroke="#fff" stroke-width="1.3"/>
<path d="M314.7,1670.3 L316.9,1674.5" stroke="#fff" stroke-width="1.3"/>
<path d="M322.4,1668.1 L324.6,1672.3" stroke="#fff" stroke-width="1.3"/>
<path d="M330.1,1665.9 L332.3,1670.1" stroke="#fff" stroke-width="1.3"/>
<path d="M337.8,1663.7 L340.0,1667.9" stroke="#fff" stroke-width="1.3"/>
<path d="M345.5,1661.5 L347.7,1665.7" stroke="#fff" stroke-width="1.3"/>
<ellipse cx="400.8" cy="1704.9" rx="5.6" ry="8.4" transform="rotate(-12 400.8 1704.9)" stroke-width="2.3" fill="#fff"/>
<circle cx="596.5" cy="1621.5" r="27.8" stroke-width="4.2" fill="#fff"/>
<g transform="translate(561.5,1630.5) rotate(-16.62)"><rect x="-4.3" y="-4.6" width="79.6" height="9.2" rx="4.6" fill="#fff" stroke-width="2.0"/><path d="M1.5,-4.2 L1.5,4.2 M69.5,-4.2 L69.5,4.2" stroke-width="1.2"/></g>
<path d="M182.4,1741.4 L231.1,1715.4 C233.2,1716.0 239.9,1717.4 243.6,1719.2 C247.3,1721.0 249.4,1723.8 253.3,1726.1 C257.2,1728.4 261.4,1731.4 267.2,1733.0 C273.0,1734.6 282.2,1735.6 288.0,1735.8 C293.8,1736.0 298.8,1734.9 302.0,1734.4 C305.2,1733.9 306.6,1733.2 307.5,1733.0 L310.5,1741 L305,1745 L221.0,1804.1 L214.6,1797.9 A29,29 0 0 0 185.1,1749.9 Z" fill="#fff" stroke="none"/>
<path d="M231.1,1715.4 C233.2,1716.0 239.9,1717.4 243.6,1719.2 C247.3,1721.0 249.4,1723.8 253.3,1726.1 C257.2,1728.4 261.4,1731.4 267.2,1733.0 C273.0,1734.6 282.2,1735.6 288.0,1735.8 C293.8,1736.0 298.8,1734.9 302.0,1734.4 C305.2,1733.9 306.6,1733.2 307.5,1733.0" stroke-width="2.3" fill="none"/>
<path d="M176.5,1741.5 L232.5,1717.8" stroke-width="2.2" fill="none"/>
<path d="M187.5,1746.4 L241.5,1723.3" stroke-width="2.2" fill="none"/>
<path d="M216.5,1800.5 L301.6,1739.6" stroke-width="2.2" fill="none"/>
<path d="M224.0,1805.8 L305.0,1743.0" stroke-width="2.2" fill="none"/>
<path d="M178.7,1742.4 L182.6,1750.2" stroke-width="1.6" fill="none"/>
<path d="M184.8,1739.8 L188.8,1747.5" stroke-width="1.6" fill="none"/>
<path d="M213.5,1798.5 L219.0,1806.0" stroke-width="1.6" fill="none"/>
<path d="M220.0,1794.5 L225.8,1802.5" stroke-width="1.6" fill="none"/>
<ellipse cx="304.5" cy="1739.5" rx="5.5" ry="5" fill="#fff" stroke-width="2.6"/>
<path d="M296.0,1735.0 C296.7,1734.4 298.0,1732.1 300.0,1731.5 C302.0,1730.9 306.0,1730.8 308.0,1731.5 C310.0,1732.2 311.3,1735.2 312.0,1736.0" stroke-width="2.0" fill="none"/>
<circle cx="193.8" cy="1777.6" r="30.4" fill="#000" stroke="none"/>
<circle cx="193.8" cy="1777.6" r="28.4" stroke="#fff" stroke-width="0.8" stroke-opacity="0.85"/>
<circle cx="193.8" cy="1777.6" r="25.4" stroke="#fff" stroke-width="0.6" stroke-opacity="0.6"/>
<circle cx="215.2" cy="1780.6" r="0.8" fill="#fff" stroke="none"/>
<circle cx="212.9" cy="1787.7" r="0.8" fill="#fff" stroke="none"/>
<circle cx="208.3" cy="1793.7" r="0.8" fill="#fff" stroke="none"/>
<circle cx="201.9" cy="1797.6" r="0.8" fill="#fff" stroke="none"/>
<circle cx="194.6" cy="1799.2" r="0.8" fill="#fff" stroke="none"/>
<circle cx="187.1" cy="1798.1" r="0.8" fill="#fff" stroke="none"/>
<circle cx="180.5" cy="1794.6" r="0.8" fill="#fff" stroke="none"/>
<circle cx="175.5" cy="1789.0" r="0.8" fill="#fff" stroke="none"/>
<circle cx="172.7" cy="1782.1" r="0.8" fill="#fff" stroke="none"/>
<circle cx="172.4" cy="1774.6" r="0.8" fill="#fff" stroke="none"/>
<circle cx="174.7" cy="1767.5" r="0.8" fill="#fff" stroke="none"/>
<circle cx="179.3" cy="1761.5" r="0.8" fill="#fff" stroke="none"/>
<circle cx="185.7" cy="1757.6" r="0.8" fill="#fff" stroke="none"/>
<circle cx="193.0" cy="1756.0" r="0.8" fill="#fff" stroke="none"/>
<circle cx="200.5" cy="1757.1" r="0.8" fill="#fff" stroke="none"/>
<circle cx="207.1" cy="1760.6" r="0.8" fill="#fff" stroke="none"/>
<circle cx="212.1" cy="1766.2" r="0.8" fill="#fff" stroke="none"/>
<circle cx="214.9" cy="1773.1" r="0.8" fill="#fff" stroke="none"/>
<circle cx="193.8" cy="1777.6" r="12.8" stroke="#fff" stroke-width="4.6"/>
<circle cx="193.8" cy="1777.6" r="8.2" fill="#fff" stroke="none"/>
<path d="M202.8,1777.6 L209.8,1777.6" stroke-width="1.8"/>
<path d="M193.8,1786.6 L193.8,1793.6" stroke-width="1.8"/>
<path d="M184.8,1777.6 L177.8,1777.6" stroke-width="1.8"/>
<path d="M193.8,1768.6 L193.8,1761.6" stroke-width="1.8"/>
</g>
</g>
</svg>
</body></html>
